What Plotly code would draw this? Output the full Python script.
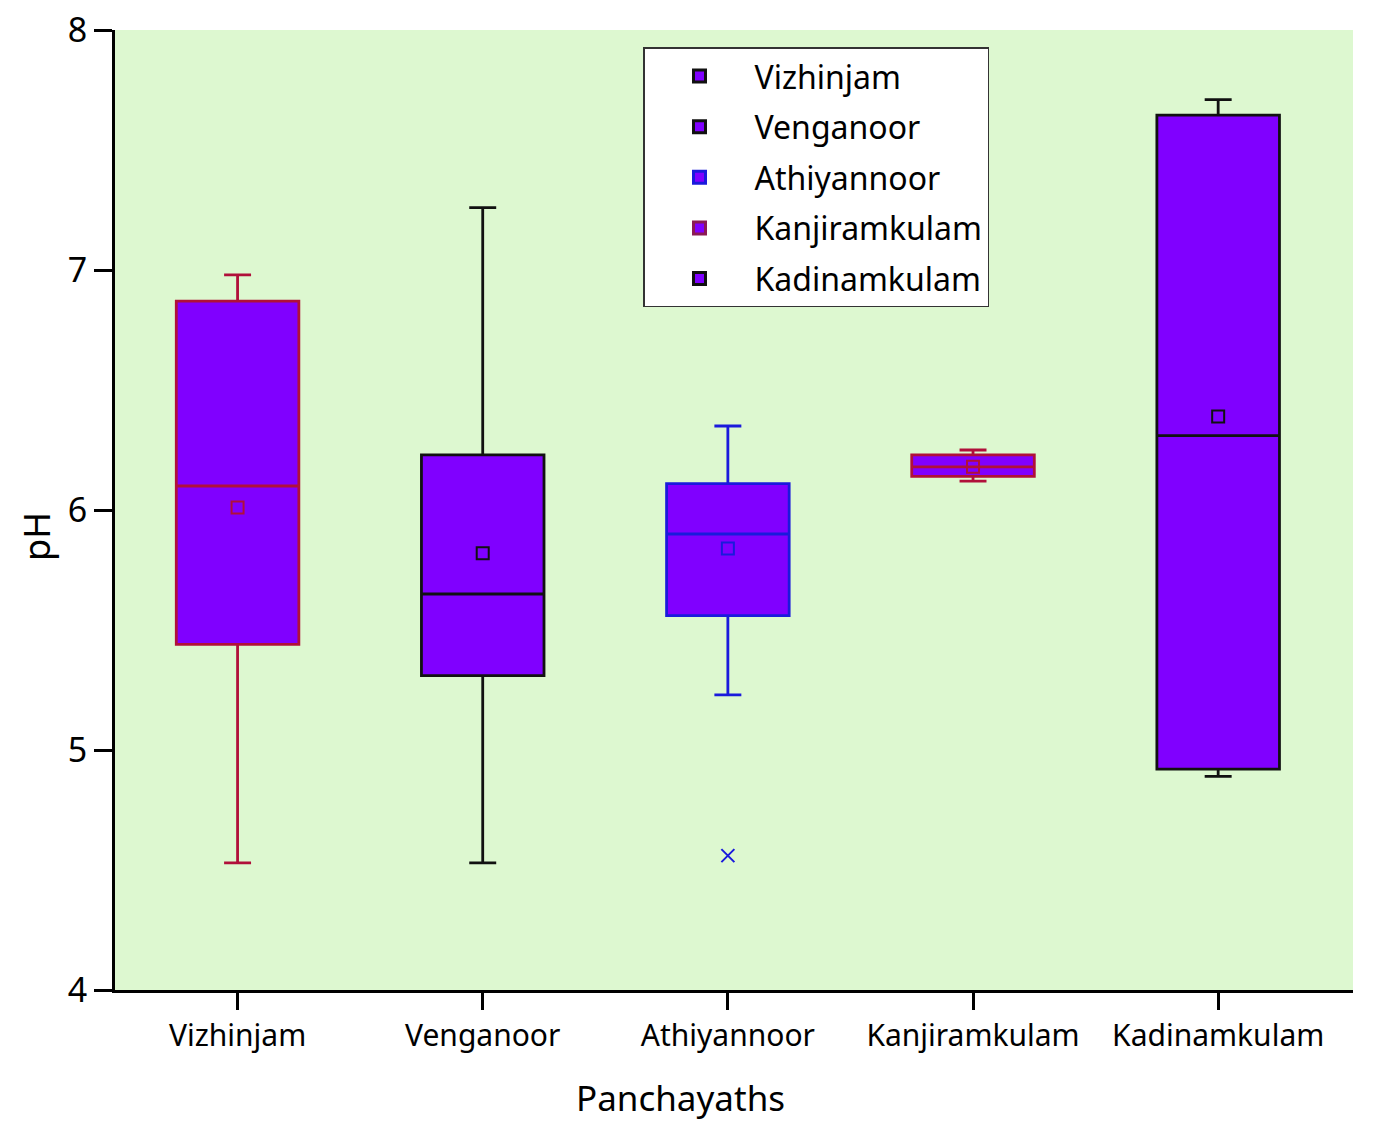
import plotly.graph_objects as go

places = ["Vizhinjam", "Venganoor", "Athiyannoor", "Kanjiramkulam", "Kadinamkulam"]
lower = [4.53, 4.53, 5.23, 6.12, 4.89]
q1 = [5.44, 5.31, 5.56, 6.14, 4.92]
median = [6.10, 5.65, 5.90, 6.18, 6.31]
q3 = [6.87, 6.23, 6.11, 6.23, 7.645]
upper = [6.98, 7.26, 6.35, 6.25, 7.71]
means = [6.01, 5.82, 5.84, 6.18, 6.39]
outlier_place = ["Athiyannoor"]
outlier_val = [4.56]

box_lines = ["#b0103a", "#111111", "#1a1adc", "#b0103a", "#111111"]
legend_lines = ["#111111", "#111111", "#1a1adc", "#8b1a55", "#111111"]
fill = "#8000ff"

fig = go.Figure()
for i, p in enumerate(places):
    fig.add_trace(go.Box(
        x=[p], q1=[q1[i]], median=[median[i]], q3=[q3[i]],
        lowerfence=[lower[i]], upperfence=[upper[i]],
        fillcolor=fill, line=dict(color=box_lines[i], width=2.8),
        width=0.5, whiskerwidth=0.22, boxpoints=False,
        showlegend=False, name=p))
    fig.add_trace(go.Scatter(
        x=[p], y=[means[i]], mode="markers", showlegend=False,
        marker=dict(symbol="square-open", size=12, color=box_lines[i], line=dict(width=2))))

fig.add_trace(go.Scatter(
    x=outlier_place, y=outlier_val, mode="markers", showlegend=False,
    marker=dict(symbol="x-thin-open", size=13, color="#1a1adc", line=dict(width=2, color="#1a1adc"))))

# legend entries
for i, p in enumerate(places):
    fig.add_trace(go.Box(
        x=[None], y=[None], name=p, legendgroup=p,
        fillcolor=fill, line=dict(color=legend_lines[i], width=3)))

fig.update_layout(
    width=1375, height=1144,
    margin=dict(l=115, r=22, t=30, b=154),
    paper_bgcolor="white", plot_bgcolor="#ddf8d0",
    font=dict(family="Noto Sans", color="black"),
    boxmode="overlay",
    legend=dict(x=0.4265, y=0.982, xanchor="left", yanchor="top",
                bgcolor="white", bordercolor="#333333", borderwidth=1.5,
                font=dict(size=32), tracegroupgap=6, itemwidth=100),
    xaxis=dict(categoryorder="array", categoryarray=places,
               range=[-0.5, 4.55], automargin=False,
               showline=True, linecolor="black", linewidth=3,
               ticks="outside", ticklen=17, tickwidth=3, tickcolor="black",
               tickfont=dict(size=30), showgrid=False, zeroline=False),
    yaxis=dict(range=[4, 8], tickvals=[4, 5, 6, 7, 8], automargin=False,
               showline=True, linecolor="black", linewidth=3,
               ticks="outside", ticklen=18, tickwidth=3, tickcolor="black",
               tickfont=dict(size=34), showgrid=False, zeroline=False,
               ticklabeloverflow="allow"),
    annotations=[
        dict(text="Panchayaths", xref="paper", yref="paper", x=0.457, y=-0.1115,
             xanchor="center", yanchor="middle", showarrow=False, font=dict(size=35)),
        dict(text="pH", xref="paper", yref="paper", x=-0.063, y=0.472,
             xanchor="center", yanchor="middle", showarrow=False, textangle=-90,
             font=dict(size=36)),
    ],
)

# drop the default page margin so the figure fills the window exactly
fig.write_html("out.html", config={"displayModeBar": False},
               post_script="document.body.style.margin='0';")
